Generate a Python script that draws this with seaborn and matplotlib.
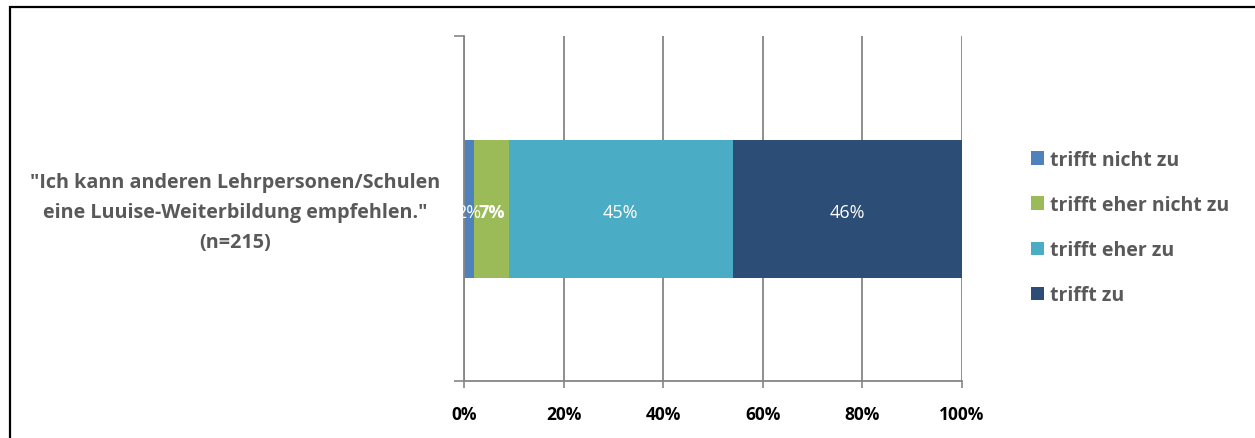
import matplotlib
matplotlib.use("Agg")
import matplotlib.pyplot as plt
import seaborn as sns
import pandas as pd
import numpy as np
from matplotlib.patches import Rectangle, Patch

categories = ["trifft nicht zu", "trifft eher nicht zu", "trifft eher zu", "trifft zu"]
values = [2, 7, 45, 46]
colors = ["#4F81BD", "#9BBB59", "#4BACC6", "#2C4D75"]
question = "\"Ich kann anderen Lehrpersonen/Schulen\neine Luuise-Weiterbildung empfehlen.\"\n(n=215)"
xticks = [0, 20, 40, 60, 80, 100]
xticklabels = ["0%", "20%", "40%", "60%", "80%", "100%"]

sns.set_theme(style="white")
plt.rcParams['font.family'] = ['Open Sans', 'DejaVu Sans']

fig = plt.figure(figsize=(12.55, 4.39), dpi=100)
ax = fig.add_axes([464/1255, 1-382/439, 498/1255, 345/439])

cum = np.cumsum(values)
df = pd.DataFrame({"q": ["q"] * len(values), "cat": categories, "cum": cum})
# draw cumulative bars from largest to smallest for stacked look
for i in range(len(values) - 1, -1, -1):
    sns.barplot(data=df.iloc[[i]], x="cum", y="q", color=colors[i], orient="h",
                width=0.4, ax=ax, saturation=1, edgecolor="none", linewidth=0, zorder=2)

ax.set_xlim(0, 100)
ax.set_ylim(0.5, -0.5)
ax.set_xlabel("")
ax.set_ylabel("")

ax.set_xticks(xticks)
ax.set_xticklabels(xticklabels, fontsize=12.5, fontweight="bold", color="black")
ax.set_yticks([-0.5, 0.5])
ax.set_yticklabels([])
ax.tick_params(axis="x", bottom=True, length=5, width=1.2, color="#868686", direction="out", pad=12)
ax.tick_params(axis="y", left=True, length=7, width=1.2, color="#868686", direction="out")
ax.grid(axis="x", color="#868686", linewidth=1.3, zorder=0)
ax.set_axisbelow(True)
for s in ["top", "right"]:
    ax.spines[s].set_visible(False)
for s in ["left", "bottom"]:
    ax.spines[s].set_color("#868686")
    ax.spines[s].set_linewidth(1.3)

# data labels
lefts = cum - np.array(values)
for i, (l, v) in enumerate(zip(lefts, values)):
    weight = "bold" if i == 1 else "normal"
    ax.text(l + v / 2, 0.01, f"{v}%", ha="center", va="center", color="white",
            fontsize=13, fontweight=weight, zorder=5)

# question label
fig.text(235/1255, 1 - 213/439, question, ha="center", va="center",
         fontsize=14.2, fontweight="bold", color="#595959", linespacing=1.68)

# legend
handles = [Patch(facecolor=c, edgecolor="none") for c in colors]
leg = fig.legend(handles, categories, loc="center left",
                 bbox_to_anchor=(1013/1255, 1 - 228.5/439), frameon=False,
                 prop={"size": 14, "weight": "bold"}, labelspacing=1.3,
                 handlelength=0.7, handleheight=0.7, handletextpad=0.3)
for t in leg.get_texts():
    t.set_color("#595959")

# outer border (top and left visible; continues past right/bottom edges)
fig.patches.append(Rectangle((9.5/1255, -0.05), 1.1, 1 - 7.5/439 + 0.05, transform=fig.transFigure,
                             fill=False, edgecolor="black", linewidth=1.6, clip_on=False))

fig.savefig("out.png", dpi=100)
